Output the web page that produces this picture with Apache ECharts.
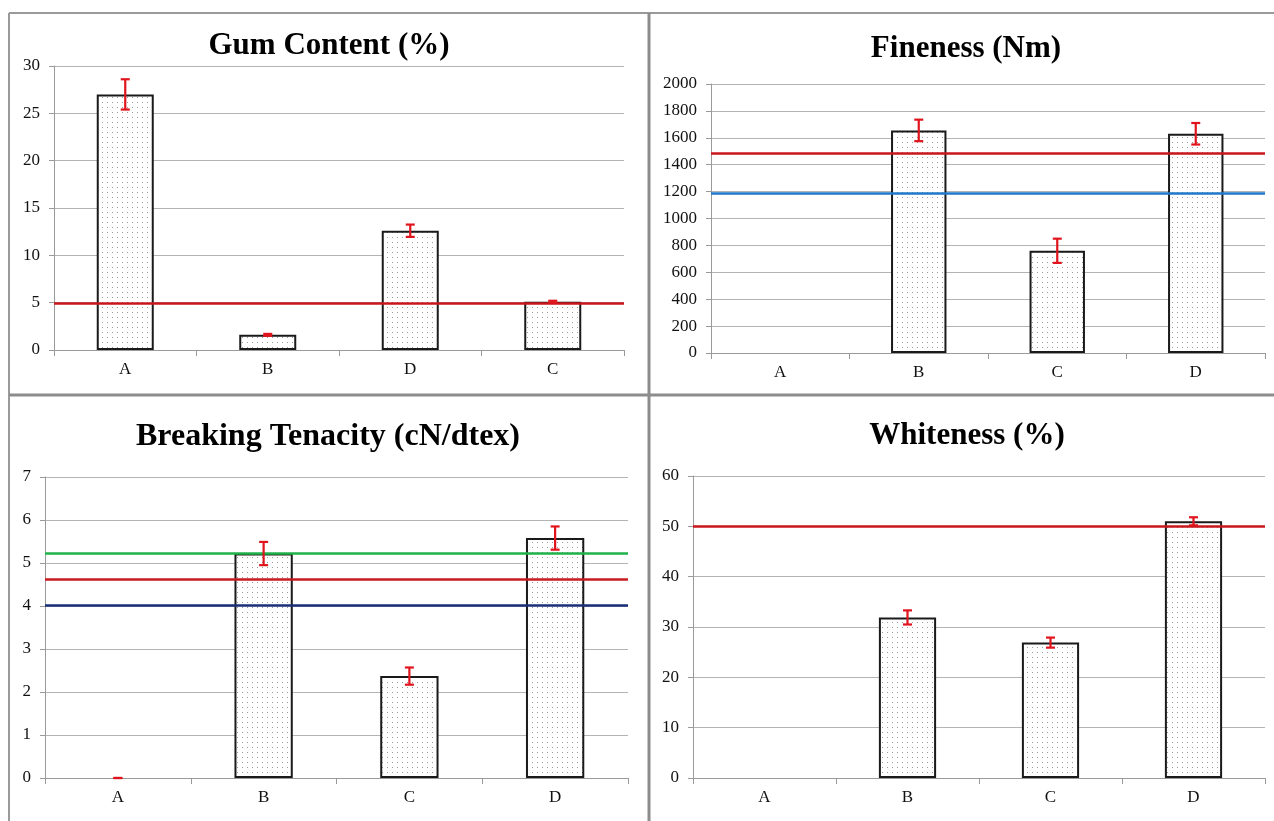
<!DOCTYPE html>
<html>
<head>
<meta charset="utf-8">
<script src="https://cdn.jsdelivr.net/npm/echarts@6/dist/echarts.min.js"></script>
<style>
  html, body { margin: 0; padding: 0; background: #fff; }
  #chart { width: 1274px; height: 821px; }
</style>
</head>
<body>
<div id="chart"></div>
<script>
// ---------- data ----------
const gumCategories = ['A', 'B', 'D', 'C'];
const gumValues = [27.0, 1.6, 12.6, 5.1];
const gumErrors = [1.6, 0.1, 0.65, 0.1];
const gumRefLines = [4.95];
const gumTicks = { min: 0, max: 30, interval: 5 };

const categories = ['A', 'B', 'C', 'D'];

const finenessValues = [null, 1655, 760, 1630];
const finenessErrors = [null, 80, 90, 80];
const finenessRefLines = [1485, 1190];
const finenessTicks = { min: 0, max: 2000, interval: 200 };

const tenacityValues = [0, 5.22, 2.37, 5.58];
const tenacityErrors = [0, 0.27, 0.2, 0.27];
const tenacityRefLines = [5.22, 4.62, 4.01];
const tenacityTicks = { min: 0, max: 7, interval: 1 };

const whitenessValues = [null, 31.9, 26.9, 51.0];
const whitenessErrors = [null, 1.4, 1.0, 0.8];
const whitenessRefLines = [50.1];
const whitenessTicks = { min: 0, max: 60, interval: 10 };

const titles = ['Gum Content (%)', 'Fineness (Nm)', 'Breaking Tenacity (cN/dtex)', 'Whiteness (%)'];

// ---------- styles ----------
const FONT = "'Liberation Serif', 'Times New Roman', serif";
const RED = '#c8161d';
const refColors = [
  [RED],
  [RED, '#1f78c8'],
  ['#1fb24a', '#c81a1f', '#1a2f78'],
  [RED]
];

function dotPattern() {
  const c = document.createElement('canvas');
  c.width = 5; c.height = 5;
  const ctx = c.getContext('2d');
  ctx.fillStyle = '#ffffff';
  ctx.fillRect(0, 0, 5, 5);
  ctx.fillStyle = '#9a9a9a';
  ctx.fillRect(2, 2, 1, 1);
  return c;
}
const pattern = { image: dotPattern(), repeat: 'repeat' };

const grids = [
  { left: 54, top: 66, width: 570, height: 284 },
  { left: 711, top: 84, width: 554, height: 269 },
  { left: 45, top: 477, width: 583, height: 301 },
  { left: 693, top: 476, width: 572, height: 302 }
];
const titlePos = [
  { x: 329, y: 30 },
  { x: 966, y: 33 },
  { x: 328, y: 421 },
  { x: 967, y: 420 }
];
const titleSizes = [31, 31, 32, 31];

const panels = [
  { cats: gumCategories, vals: gumValues, errs: gumErrors, refs: gumRefLines, ticks: gumTicks },
  { cats: categories, vals: finenessValues, errs: finenessErrors, refs: finenessRefLines, ticks: finenessTicks },
  { cats: categories, vals: tenacityValues, errs: tenacityErrors, refs: tenacityRefLines, ticks: tenacityTicks },
  { cats: categories, vals: whitenessValues, errs: whitenessErrors, refs: whitenessRefLines, ticks: whitenessTicks }
];

const xAxes = [], yAxes = [], series = [];
panels.forEach((p, i) => {
  xAxes.push({
    type: 'category', gridIndex: i, data: p.cats, boundaryGap: true,
    axisLine: { show: true, lineStyle: { color: '#9a9a9a', width: 1 } },
    axisTick: { show: true, length: 6, alignWithLabel: false, lineStyle: { color: '#9a9a9a' } },
    axisLabel: { fontFamily: FONT, fontSize: 17, color: '#111', margin: 11 }
  });
  yAxes.push({
    type: 'value', gridIndex: i, min: p.ticks.min, max: p.ticks.max, interval: p.ticks.interval,
    axisLine: { show: true, lineStyle: { color: '#9a9a9a', width: 1 } },
    axisTick: { show: true, length: 5, lineStyle: { color: '#9a9a9a' } },
    splitLine: { show: true, lineStyle: { color: '#b4b4b4', width: 1.2 } },
    axisLabel: { fontFamily: FONT, fontSize: 17, color: '#111', margin: 14, formatter: v => String(v) }
  });
  series.push({
    type: 'bar', xAxisIndex: i, yAxisIndex: i, barWidth: '40%',
    // a zero-height bar is not drawn (only its error marker shows)
    data: p.vals.map(v => (v === 0 ? null : v)),
    itemStyle: { color: pattern, borderColor: '#1a1a1a', borderWidth: 2 },
    silent: true,
    markLine: {
      silent: true, symbol: 'none', label: { show: false },
      data: p.refs.map((v, k) => ({ yAxis: v, lineStyle: { color: refColors[i][k], width: 2.6, type: 'solid' } }))
    },
    z: 2
  });
  const errData = [];
  p.vals.forEach((v, k) => { if (v !== null) errData.push([k, v, p.errs[k]]); });
  series.push({
    type: 'custom', xAxisIndex: i, yAxisIndex: i, data: errData, z: 10, silent: true,
    renderItem: function (params, api) {
      const x = api.value(0), v = api.value(1), e = api.value(2);
      const top = api.coord([x, v + e]);
      const bot = api.coord([x, v - e]);
      const half = 4.5;
      const st = { stroke: '#e0141c', lineWidth: 2.2 };
      return {
        type: 'group',
        children: [
          { type: 'line', shape: { x1: top[0], y1: top[1], x2: bot[0], y2: bot[1] }, style: st },
          { type: 'line', shape: { x1: top[0] - half, y1: top[1], x2: top[0] + half, y2: top[1] }, style: st },
          { type: 'line', shape: { x1: bot[0] - half, y1: bot[1], x2: bot[0] + half, y2: bot[1] }, style: st }
        ]
      };
    }
  });
});

const chart = echarts.init(document.getElementById('chart'), null, { renderer: 'canvas' });
chart.setOption({
  backgroundColor: '#ffffff',
  animation: false,
  title: titles.map((t, i) => ({
    text: t, left: titlePos[i].x, top: titlePos[i].y, textAlign: 'center', padding: 0,
    textStyle: { fontFamily: FONT, fontSize: titleSizes[i], fontWeight: 'bold', color: '#000' }
  })),
  grid: grids,
  xAxis: xAxes,
  yAxis: yAxes,
  series: series,
  graphic: [
    { type: 'line', shape: { x1: 9, y1: 13, x2: 1274, y2: 13 }, style: { stroke: '#9a9a9a', lineWidth: 2 }, silent: true },
    { type: 'line', shape: { x1: 9, y1: 13, x2: 9, y2: 821 }, style: { stroke: '#9a9a9a', lineWidth: 2 }, silent: true },
    { type: 'line', shape: { x1: 649, y1: 13, x2: 649, y2: 821 }, style: { stroke: '#8c8c8c', lineWidth: 3 }, silent: true },
    { type: 'line', shape: { x1: 9, y1: 395, x2: 1274, y2: 395 }, style: { stroke: '#8c8c8c', lineWidth: 3 }, silent: true }
  ]
});
</script>
</body>
</html>
